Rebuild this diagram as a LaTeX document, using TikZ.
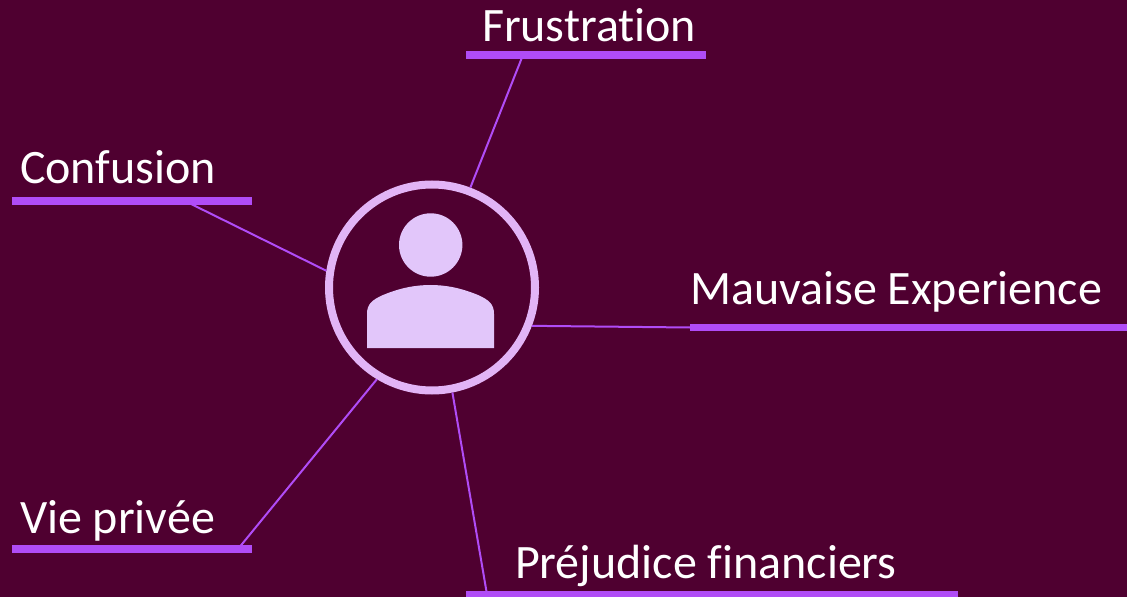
\documentclass[tikz,border=0pt]{standalone}
\usepackage{fontspec}
\setmainfont{Carlito}[Ligatures={NoCommon}]
\definecolor{bgc}{HTML}{4F0030}
\definecolor{linkc}{HTML}{B04CF6}
\definecolor{ringc}{HTML}{E2B4F6}
\definecolor{personc}{HTML}{E2C6FA}
\begin{document}
\begin{tikzpicture}[x=1bp,y=-1bp,
  lab/.style={anchor=base west, inner sep=0pt, outer sep=0pt, text=white, font=\fontsize{48bp}{56bp}\selectfont},
  bar/.style={draw=linkc, line width=7.5bp},
  link/.style={draw=linkc, line width=2bp},
  hubstyle/.style={circle, draw=ringc, line width=8bp, minimum size=206bp, inner sep=0pt},
  person/.style={fill=personc}]
\fill[bgc] (0,0) rectangle (1127,597);
\useasboundingbox (0,0) rectangle (1127,597);
% hub
\node[hubstyle] (hub) at (432,287.5) {};
\fill[person] (430.7,245) circle (31.7bp);
\fill[person] (367,348) -- (367,314) .. controls (367,304) and (372,300) .. (383,295)
  .. controls (400,288) and (415,285) .. (430.5,285)
  .. controls (446,285) and (461,288) .. (478,295)
  .. controls (489,300) and (494,304) .. (494,314) -- (494,348) -- cycle;
% labels
\node[lab] (frus) at (482,42) {Frustration};
\node[lab] (conf) at (20,184) {Confusion};
\node[lab] (mauv) at (690,305) {Mauvaise Experience};
\node[lab] (vie) at (20,533) {Vie privée};
\node[lab] (prej) at (515,578) {Préjudice financiers};
% bar ends
\coordinate (frusA) at (466,55); \coordinate (frusB) at (706,55); \coordinate (frusJ) at (523,55);
\coordinate (confA) at (12,201); \coordinate (confB) at (252,201); \coordinate (confJ) at (185,201);
\coordinate (mauvA) at (690,327.5); \coordinate (mauvB) at (1127,327.5);
\coordinate (vieA) at (12,549); \coordinate (vieB) at (252,549); \coordinate (vieJ) at (238,549);
\coordinate (prejA) at (466,594.5); \coordinate (prejB) at (958,594.5); \coordinate (prejJ) at (487,594.5);
% connectors
\draw[link] (hub.69.8) -- (frusJ);
\draw[link] (hub.171.7) -- (confJ);
\draw[link] (hub.-21.7) -- (mauvA);
\draw[link] (hub.-121.6) -- (vieJ);
\draw[link] (hub.-79.4) -- (prejJ);
% bars
\draw[bar] (frusA) -- (frusB);
\draw[bar] (confA) -- (confB);
\draw[bar] (mauvA) -- (mauvB);
\draw[bar] (vieA) -- (vieB);
\draw[bar] (prejA) -- (prejB);
\end{tikzpicture}
\end{document}
